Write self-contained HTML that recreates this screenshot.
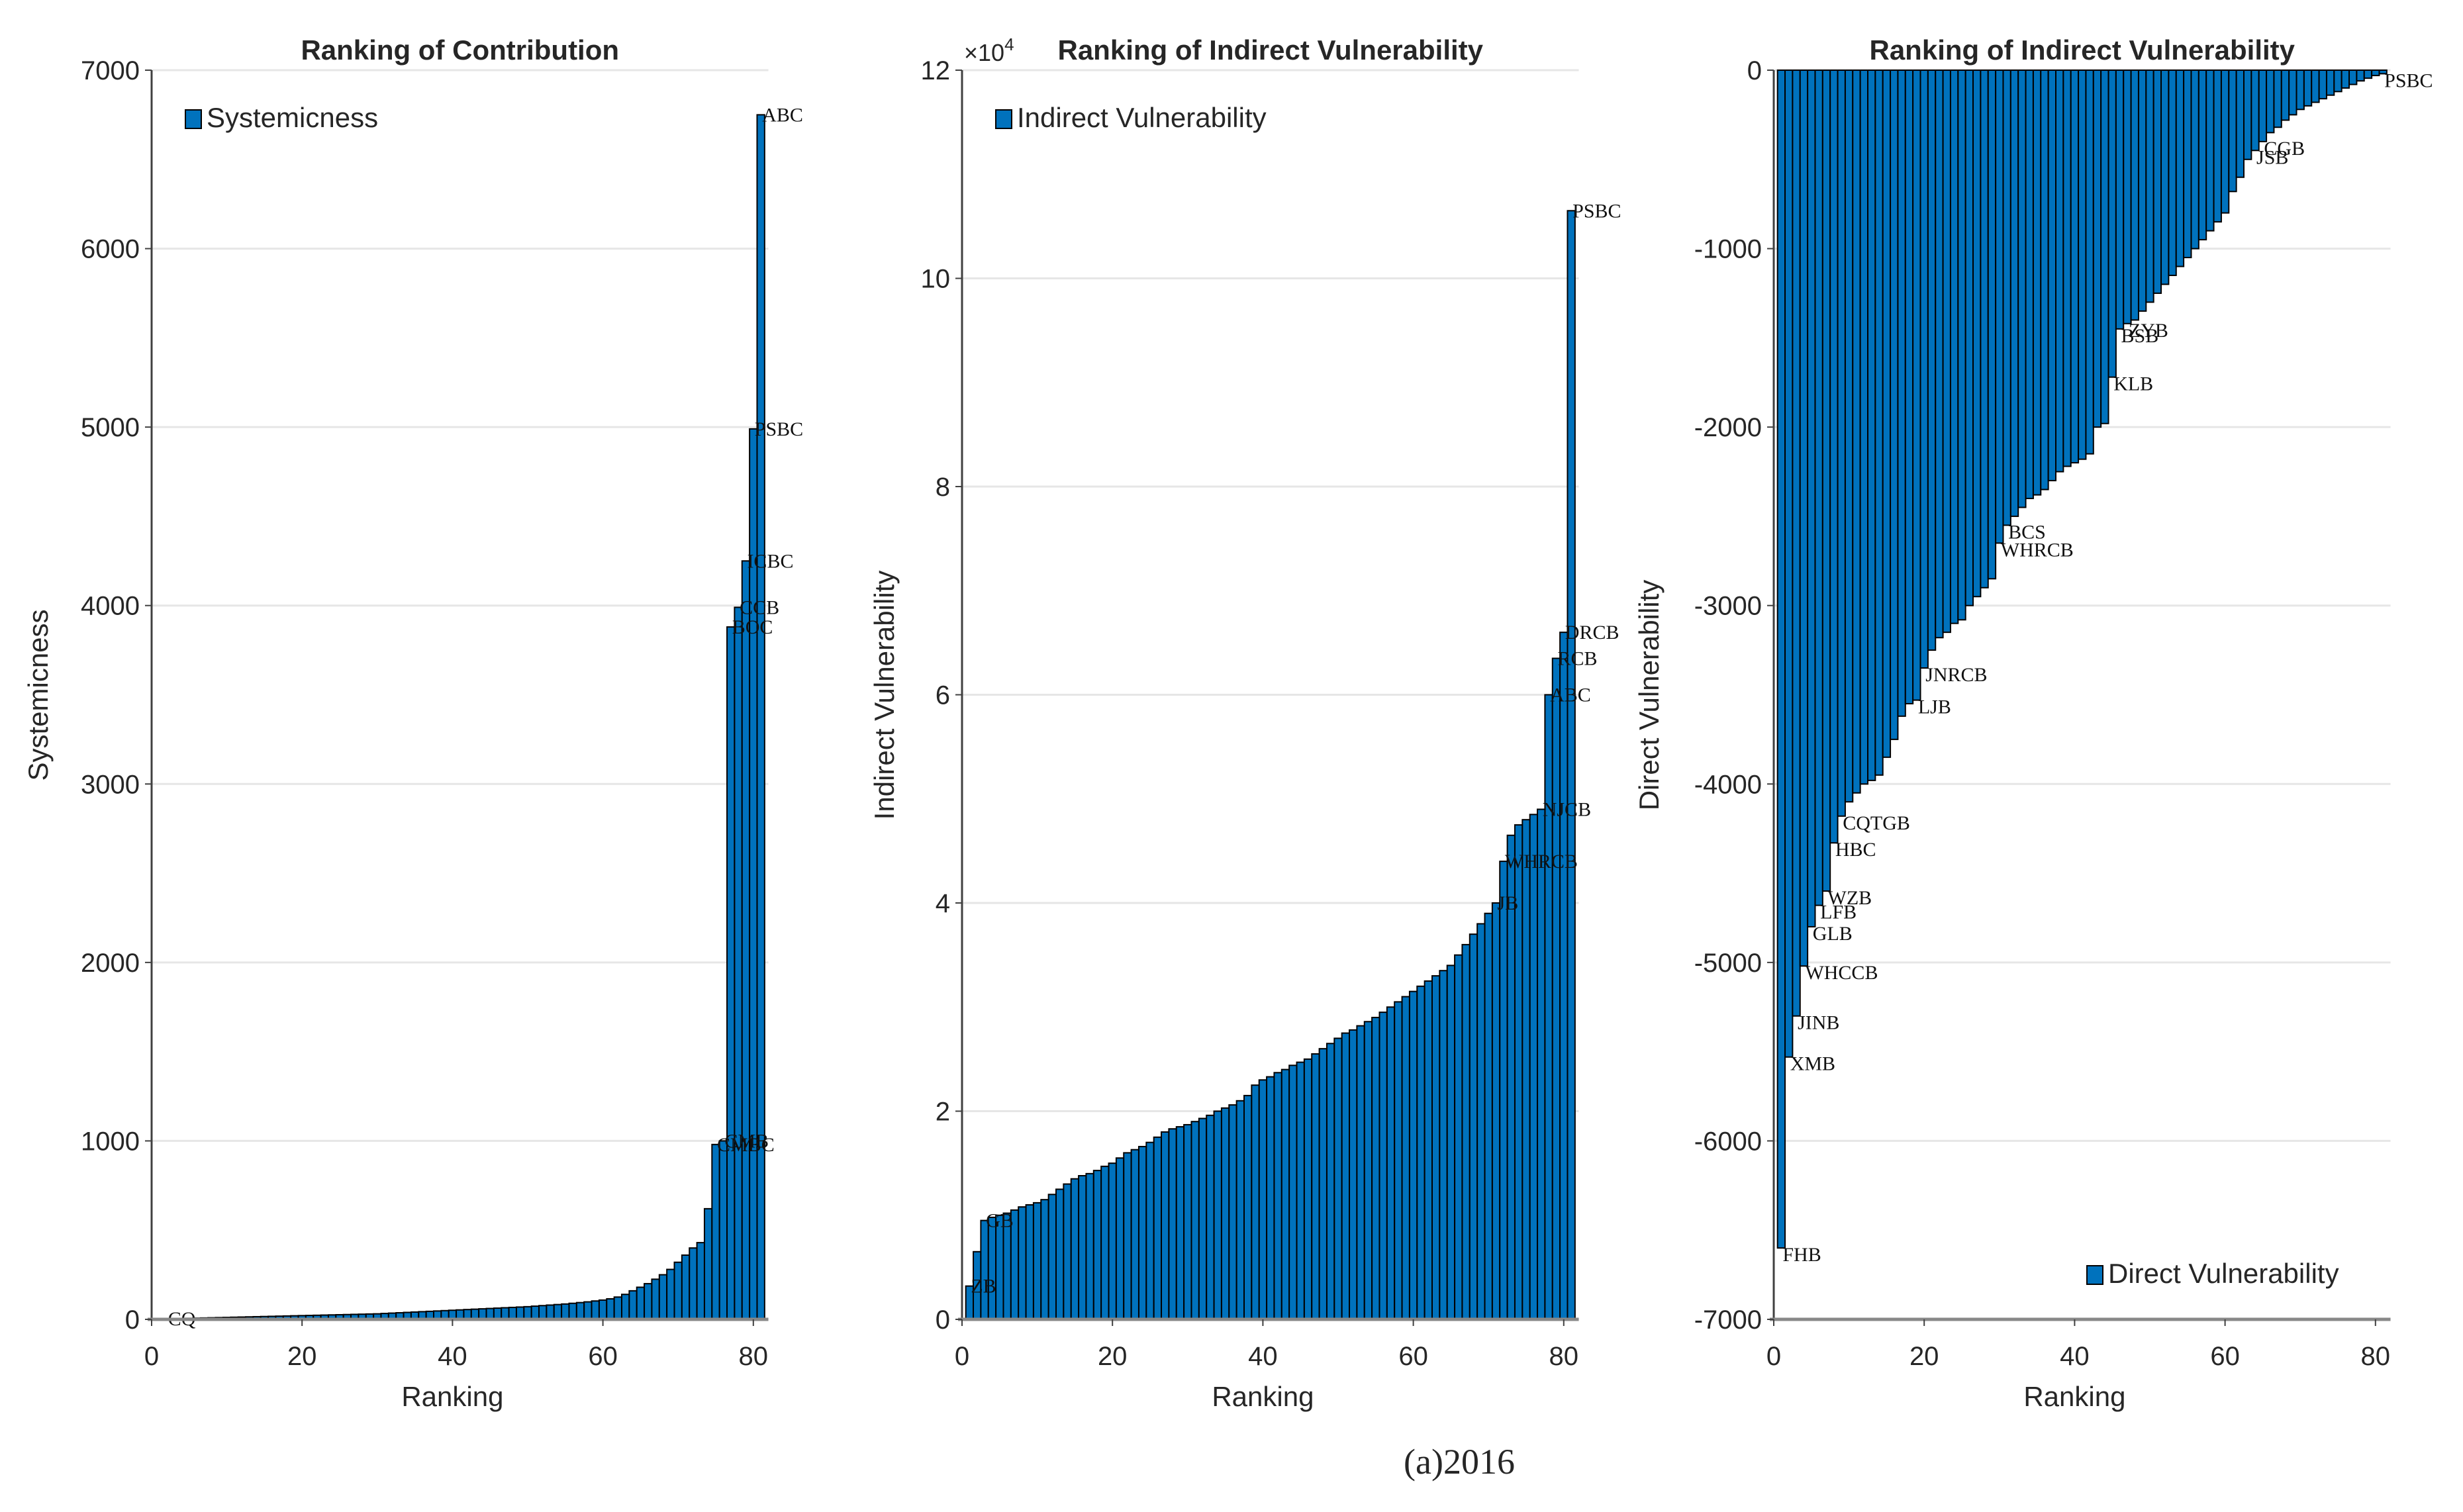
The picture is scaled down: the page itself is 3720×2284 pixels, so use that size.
<!DOCTYPE html>
<html><head><meta charset="utf-8"><style>
body{margin:0;background:#fff}
svg{display:block}
text{font-family:"Liberation Sans",sans-serif;fill:#262626}
.lbl{font-family:"Liberation Serif",serif;font-size:30px;fill:#111}
</style></head><body>
<svg id="chart" width="3720" height="2284" viewBox="0 0 3720 2284" xmlns="http://www.w3.org/2000/svg"></svg>
<script>
const ranks = Array.from({length:81},(_,i)=>i+1);
const systemicness = [2,3,4,5,6,7,8,9,10,11,12,13,14,15,16,17,18,19,20,21,
22,23,24,25,26,27,28,29,30,31,33,35,37,39,41,43,45,47,49,51,
53,55,57,59,61,63,65,67,69,71,74,77,80,83,86,90,94,98,103,108,
115,125,140,160,180,200,225,250,280,320,
360,400,430,620,980,1000,3880,3990,4250,4990,6750];
const indirectVuln = [0.32,0.65,0.95,0.98,1.0,1.02,1.05,1.08,1.1,1.12,
1.15,1.2,1.25,1.3,1.35,1.38,1.4,1.43,1.47,1.5,
1.55,1.6,1.63,1.66,1.7,1.75,1.8,1.83,1.85,1.87,
1.9,1.93,1.96,2.0,2.03,2.06,2.1,2.15,2.25,2.3,
2.33,2.37,2.4,2.44,2.47,2.5,2.55,2.6,2.65,2.7,
2.75,2.78,2.82,2.86,2.9,2.95,3.0,3.05,3.1,3.15,
3.2,3.25,3.3,3.35,3.4,3.5,3.6,3.7,3.8,3.9,
4.0,4.4,4.65,4.75,4.8,4.85,4.9,6.0,6.35,6.6,10.65];
const directVuln = [-6600,-5530,-5300,-5020,-4800,-4680,-4600,-4330,-4180,-4100,
-4050,-4000,-3980,-3950,-3850,-3750,-3620,-3550,-3530,-3350,
-3250,-3180,-3150,-3100,-3080,-3000,-2950,-2900,-2850,-2650,
-2550,-2500,-2450,-2400,-2380,-2350,-2300,-2250,-2220,-2200,
-2180,-2150,-2000,-1980,-1720,-1450,-1420,-1400,-1350,-1300,
-1250,-1200,-1150,-1100,-1050,-1000,-950,-900,-850,-800,
-680,-600,-500,-450,-400,-350,-320,-280,-250,-220,
-200,-180,-160,-140,-120,-100,-80,-60,-45,-30,-20];
const xTicks = [0,20,40,60,80];
const yTicks1 = [0,1000,2000,3000,4000,5000,6000,7000];
const yTicks2 = [0,2,4,6,8,10,12];
const yTicks3 = [0,-1000,-2000,-3000,-4000,-5000,-6000,-7000];
const labels1 = {81:"ABC",80:"PSBC",79:"ICBC",78:"CCB",77:"BOC",76:"CMB",75:"CMBC",2:"CQ"};
const labels2 = {81:"PSBC",80:"DRCB",79:"RCB",78:"ABC",77:"NJCB",72:"WHRCB",71:"JB",3:"GB",1:"ZB"};
const labels3 = {1:"FHB",2:"XMB",3:"JINB",4:"WHCCB",5:"GLB",6:"LFB",7:"WZB",8:"HBC",9:"CQTGB",19:"LJB",20:"JNRCB",30:"WHRCB",31:"BCS",45:"KLB",46:"BSB",47:"ZYB",64:"JSB",65:"CGB",81:"PSBC"};

const NS="http://www.w3.org/2000/svg";
const svg=document.getElementById('chart');
function el(tag,attrs,parent){const e=document.createElementNS(NS,tag);for(const k in attrs)e.setAttribute(k,attrs[k]);(parent||svg).appendChild(e);return e;}
const Y0=106, Y1=1993, UNIT=11.36;

function panel(cfg){
  const g=el('g',{});
  
  
  const xs=v=>cfg.x0+v*UNIT;
  const ys=v=>Y1-(v-cfg.ymin)/(cfg.ymax-cfg.ymin)*(Y1-Y0);
  const right=xs(82);
  cfg.yticks.forEach(t=>{
    const gl=el('line',{x1:cfg.x0,x2:right,y1:ys(t),y2:ys(t),stroke:'#e6e6e6','stroke-width':3},g);
    
    
  });
  const base=ys(cfg.base);
  cfg.values.forEach((v,i)=>{
    const r=ranks[i];
    const y=Math.min(ys(v),base), h=Math.abs(ys(v)-base);
    const b=el('rect',{x:xs(r)-UNIT/2,y:y,width:UNIT,height:h,fill:'#0072BD',stroke:'#000','stroke-width':2},g);
    
    
  });
  cfg.values.forEach((v,i)=>{
    const r=ranks[i];
    if(cfg.labels[r]){
      const t=el('text',{x:xs(r)+2,y:(v>=0?ys(v)+10:ys(v)+20),class:'lbl'},g);
      t.textContent=cfg.labels[r];
      
      
    }
  });
  el('line',{x1:cfg.x0,x2:cfg.x0,y1:Y0,y2:Y1,stroke:'#404040','stroke-width':3},g);
  el('line',{x1:cfg.x0-6,x2:right,y1:Y1,y2:Y1,stroke:'#888','stroke-width':5},g);
  xTicks.forEach(t=>{
    el('line',{x1:xs(t),x2:xs(t),y1:Y1,y2:Y1+10,stroke:'#404040','stroke-width':2},g);
    const tx=el('text',{x:xs(t),y:2062,'font-size':40,'text-anchor':'middle'},g);
    tx.textContent=t;
    
    
  });
  cfg.yticks.forEach(t=>{
    el('line',{x1:cfg.x0-10,x2:cfg.x0,y1:ys(t),y2:ys(t),stroke:'#404040','stroke-width':2},g);
    const ty=el('text',{x:cfg.x0-18,y:ys(t)+14,'font-size':40,'text-anchor':'end'},g);
    ty.textContent=t;
    
    
  });
  const xt=el('text',{x:cfg.x0+40*UNIT,y:2124,'font-size':42,'text-anchor':'middle'},g);
  xt.textContent='Ranking';
  
  
  const yt=el('text',{x:0,y:0,'font-size':42,'text-anchor':'middle',transform:`translate(${cfg.ytx},${cfg.yty}) rotate(-90)`},g);
  yt.textContent=cfg.ytitle;
  
  
  const tt=el('text',{x:cfg.x0+41*UNIT,y:90,'font-size':42,'font-weight':'bold','text-anchor':'middle',fill:'#000'},g);
  tt.textContent=cfg.title;
  
  
  const lg=el('g',{},g);
  
  
  el('rect',{x:cfg.lx,y:cfg.ly-26,width:24,height:28,fill:'#0072BD',stroke:'#000','stroke-width':2},lg);
  const lt=el('text',{x:cfg.lx+32,y:cfg.ly,'font-size':42},lg);
  lt.textContent=cfg.legend;
  return {g,xs,ys};
}
panel({name:'contribution-panel',x0:229,ymin:0,ymax:7000,base:0,values:systemicness,yticks:yTicks1,labels:labels1,
  title:'Ranking of Contribution',ytitle:'Systemicness',ytx:72,yty:1050,lx:280,ly:192,legend:'Systemicness'});
panel({name:'indirect-panel',x0:1453,ymin:0,ymax:12,base:0,values:indirectVuln,yticks:yTicks2,labels:labels2,
  title:'Ranking of Indirect Vulnerability',ytitle:'Indirect Vulnerability',ytx:1350,yty:1050,lx:1504,ly:192,legend:'Indirect Vulnerability'});
const ex=el('text',{x:1456,y:92,'font-size':36});
ex.innerHTML='×10<tspan dy="-16" font-size="26">4</tspan>';


panel({name:'direct-panel',x0:2679,ymin:-7000,ymax:0,base:0,values:directVuln,yticks:yTicks3,labels:labels3,
  title:'Ranking of Indirect Vulnerability',ytitle:'Direct Vulnerability',ytx:2505,yty:1050,lx:3152,ly:1938,legend:'Direct Vulnerability'});
const cap=el('text',{x:2204,y:2226,'font-size':54,'text-anchor':'middle',style:'font-family:"Liberation Serif",serif',fill:'#000'});
cap.textContent='(a)2016';


</script>
</body></html>
